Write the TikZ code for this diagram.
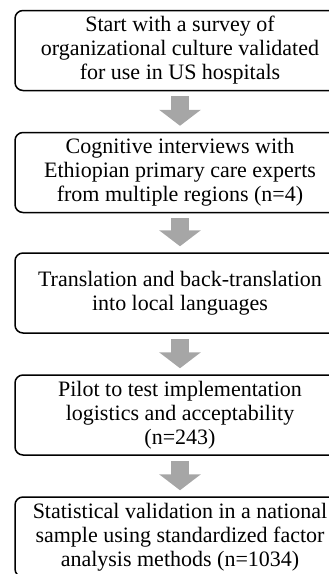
\documentclass[tikz,border=0pt]{standalone}
\usepackage{fontspec}
\setmainfont{Liberation Serif}
\usetikzlibrary{arrows.meta}
\definecolor{arrowgray}{RGB}{166,166,166}

\begin{document}
\begin{tikzpicture}[x=1pt,y=-1pt,
		stepbox/.style={draw, rectangle, rounded corners=8pt, line width=1.5pt, minimum width=330pt, minimum height=80pt, align=center, font=\fontsize{22}{24}\selectfont},
		flowarrow/.style={draw=arrowgray, line width=18pt, -{Triangle[width=41pt,length=16pt]}, shorten <=5pt, shorten >=6pt}]
		\useasboundingbox (0,0) rectangle (329,574);
		\clip (0,0) rectangle (329,574);
		\node[stepbox] (survey) at (180,50.5) {Start with a survey of\\organizational culture validated\\for use in US hospitals};
		\node[stepbox] (interviews) at (180,172.5) {Cognitive interviews with\\Ethiopian primary care experts\\from multiple regions (n=4)};
		\node[stepbox] (translation) at (180,293) {Translation and back-translation\\into local languages};
		\node[stepbox] (pilot) at (180,415) {Pilot to test implementation\\logistics and acceptability\\(n=243)};
		\node[stepbox] (validation) at (180,537) {Statistical validation in a national\\sample using standardized factor\\analysis methods (n=1034)};
		\draw[flowarrow] (survey) -- (interviews);
		\draw[flowarrow] (interviews) -- (translation);
		\draw[flowarrow] (translation) -- (pilot);
		\draw[flowarrow] (pilot) -- (validation);
\end{tikzpicture}
\end{document}
